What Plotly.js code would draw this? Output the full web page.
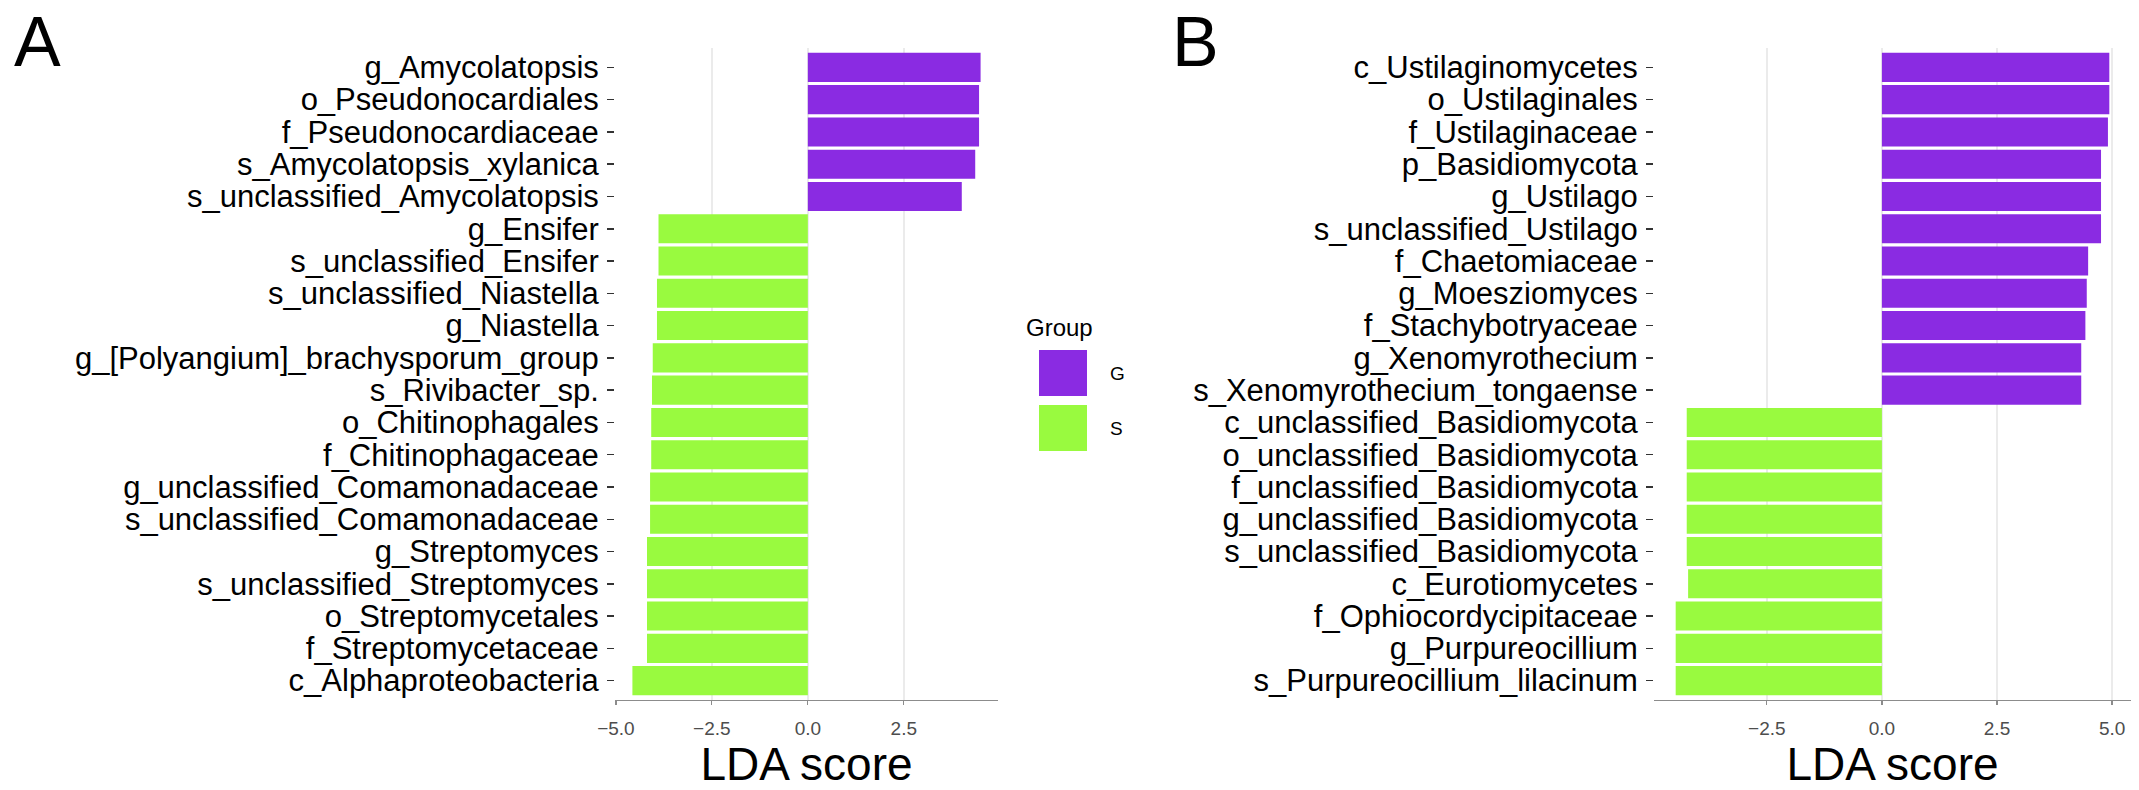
<!DOCTYPE html>
<html><head><meta charset="utf-8">
<script src="https://cdn.plot.ly/plotly-3.0.1.min.js"></script>
<style>html,body{margin:0;padding:0;background:#fff}</style>
</head><body><div id="chart" style="width:2139px;height:790px"></div>
<script>
// ---- data ----
const taxaA = ['g_Amycolatopsis','o_Pseudonocardiales','f_Pseudonocardiaceae','s_Amycolatopsis_xylanica','s_unclassified_Amycolatopsis','g_Ensifer','s_unclassified_Ensifer','s_unclassified_Niastella','g_Niastella','g_[Polyangium]_brachysporum_group','s_Rivibacter_sp.','o_Chitinophagales','f_Chitinophagaceae','g_unclassified_Comamonadaceae','s_unclassified_Comamonadaceae','g_Streptomyces','s_unclassified_Streptomyces','o_Streptomycetales','f_Streptomycetaceae','c_Alphaproteobacteria'];
const scoreA = [4.50,4.46,4.46,4.36,4.01,-3.89,-3.89,-3.93,-3.93,-4.04,-4.06,-4.08,-4.08,-4.11,-4.11,-4.19,-4.19,-4.19,-4.19,-4.57];
const taxaB = ['c_Ustilaginomycetes','o_Ustilaginales','f_Ustilaginaceae','p_Basidiomycota','g_Ustilago','s_unclassified_Ustilago','f_Chaetomiaceae','g_Moesziomyces','f_Stachybotryaceae','g_Xenomyrothecium','s_Xenomyrothecium_tongaense','c_unclassified_Basidiomycota','o_unclassified_Basidiomycota','f_unclassified_Basidiomycota','g_unclassified_Basidiomycota','s_unclassified_Basidiomycota','c_Eurotiomycetes','f_Ophiocordycipitaceae','g_Purpureocillium','s_Purpureocillium_lilacinum'];
const scoreB = [4.94,4.94,4.91,4.76,4.76,4.76,4.48,4.45,4.42,4.33,4.33,-4.24,-4.24,-4.24,-4.24,-4.24,-4.21,-4.48,-4.48,-4.48];
const groupNames = ['G','S'];
const groupColors = ['#8A2BE2','#99FA3F'];
const panelLabels = ['A','B'];
const xTitle = 'LDA score';
const legendTitle = 'Group';

// ---- layout geometry (pixels) ----
const W = 2139, H = 790;
const M = {l:0, r:0, t:48, b:90};
const plotH = H - M.t - M.b;
const px2x = p => (p - M.l) / (W - M.l - M.r);
const py2y = p => (H - M.b - p) / plotH;
const FONT = 'Liberation Sans, Arial, Helvetica, sans-serif';

function expand(vals){
  const mn = Math.min(...vals), mx = Math.max(...vals), s = mx - mn;
  return [mn - 0.05*s, mx + 0.05*s];
}
const groupOf = v => v > 0 ? groupNames[0] : groupNames[1];

function barTraces(taxa, scores, xa, ya){
  return groupNames.map((g, gi) => {
    const idx = scores.map((v,i)=>i).filter(i => groupOf(scores[i]) === g);
    return {
      type:'bar', orientation:'h',
      x: idx.map(i => scores[i]), y: idx.map(i => taxa[i]),
      xaxis: xa, yaxis: ya, name: g, width: 0.9,
      marker:{color: groupColors[gi], line:{width:0}},
      showlegend:false, hoverinfo:'x+y'
    };
  });
}

const traces = [...barTraces(taxaA, scoreA, 'x', 'y'), ...barTraces(taxaB, scoreB, 'x2', 'y2')];

function xAxis(domain, range, anchor){
  return {
    domain, range, anchor, type:'linear',
    tickmode:'linear', tick0:0, dtick:2.5, tickformat:'.1f',
    showgrid:true, gridcolor:'#ebebeb', gridwidth:1.4, zeroline:false,
    showline:true, linecolor:'#8c8c8c', linewidth:1.2,
    ticks:'outside', ticklen:4, tickcolor:'#8c8c8c', tickwidth:1.2,
    ticklabelstandoff:7,
    tickfont:{family:FONT, size:19, color:'#4d4d4d'},
    title:{text:xTitle, font:{family:FONT, size:46, color:'#000'}, standoff:6},
    automargin:false, fixedrange:true
  };
}
function yAxis(taxa, anchor){
  return {
    type:'category', categoryorder:'array', categoryarray: taxa.slice().reverse(),
    tickmode:'array', tickvals: taxa, ticktext: taxa,
    range:[-0.6, taxa.length - 0.4], anchor, domain:[0,1],
    showgrid:false, zeroline:false, showline:false,
    ticks:'outside', ticklen:7, tickwidth:1.5, tickcolor:'#333',
    ticklabelstandoff:2,
    tickfont:{family:FONT, size:31, color:'#000'},
    automargin:false, fixedrange:true
  };
}

const shapes = [];
const annotations = [];
// panel letters
[[12, 'A'], [1170, 'B']].forEach(([p, t], i) => annotations.push({
  xref:'paper', yref:'paper', x:px2x(p), y:py2y(42), xanchor:'left', yanchor:'middle',
  text: panelLabels[i], showarrow:false, font:{family:FONT, size:70, color:'#000'}
}));
// legend
annotations.push({xref:'paper', yref:'paper', x:px2x(1024), y:py2y(327), xanchor:'left', yanchor:'middle',
  text: legendTitle, showarrow:false, font:{family:FONT, size:24, color:'#000'}});
groupNames.forEach((g, gi) => {
  const top = 350 + gi*55, bot = top + 46;
  shapes.push({type:'rect', xref:'paper', yref:'paper', x0:px2x(1039), x1:px2x(1087), y0:py2y(bot), y1:py2y(top),
    fillcolor: groupColors[gi], line:{width:0}, layer:'above'});
  annotations.push({xref:'paper', yref:'paper', x:px2x(1108), y:py2y((top+bot)/2), xanchor:'left', yanchor:'middle',
    text: g, showarrow:false, font:{family:FONT, size:19, color:'#000'}});
});

const layout = {
  width:W, height:H, margin:M, paper_bgcolor:'#fff', plot_bgcolor:'#fff',
  barmode:'overlay', showlegend:false,
  xaxis: xAxis([px2x(615), px2x(998)], expand(scoreA), 'y'),
  yaxis: yAxis(taxaA, 'x'),
  xaxis2: xAxis([px2x(1654), px2x(2131)], expand(scoreB), 'y2'),
  yaxis2: yAxis(taxaB, 'x2'),
  shapes, annotations
};
Plotly.newPlot('chart', traces, layout, {displayModeBar:false, staticPlot:true});
</script></body></html>
